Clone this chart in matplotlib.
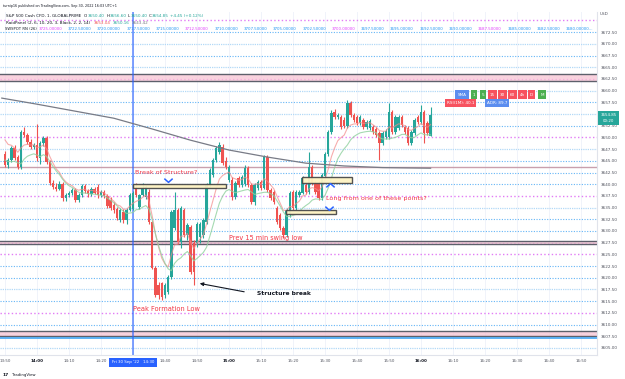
import numpy as np
import matplotlib.pyplot as plt
from matplotlib.path import Path
from matplotlib.patches import Rectangle

# 1 minute candles, minute offset from 14:00 of the first candle
first_minute = -10

opens = [
    3646.5, 3644.1, 3645.1, 3647.7, 3645.8, 3643.7, 3651.1, 3650.5, 3649.0, 3648.0,  # 13:50
    3648.4, 3645.6, 3648.7, 3649.8, 3644.7, 3640.2, 3639.4, 3639.0, 3640.0, 3637.0,  # 14:00
    3637.7, 3638.1, 3638.7, 3636.6, 3637.7, 3639.6, 3638.6, 3637.8, 3638.9, 3639.5,  # 14:10
    3637.6, 3638.3, 3637.4, 3636.6, 3635.5, 3634.8, 3632.3, 3634.0, 3632.3, 3634.5,  # 14:20
    3634.8, 3639.2, 3635.1, 3637.7, 3637.3, 3638.3, 3631.9, 3622.1, 3618.5, 3618.8,  # 14:30
    3616.3, 3617.0, 3620.2, 3630.6, 3634.5, 3627.6, 3634.5, 3629.1, 3630.8, 3627.4,  # 14:40
    3627.4, 3628.8, 3629.1, 3631.9, 3639.8, 3642.0, 3645.1, 3646.8, 3648.0, 3645.0,  # 14:50
    3641.0, 3641.0, 3637.2, 3641.3, 3639.8, 3640.0, 3643.4, 3639.8, 3636.2, 3639.2,  # 15:00
    3640.5, 3639.2, 3645.8, 3638.7, 3638.4, 3635.0, 3633.4, 3630.6, 3629.1, 3633.4,  # 15:10
    3638.3, 3634.9, 3637.7, 3638.1, 3639.8, 3638.3, 3643.7, 3640.2, 3640.2, 3637.0,  # 15:20
    3641.8, 3646.5, 3651.1, 3655.4, 3654.3, 3654.3, 3653.8, 3652.4, 3657.3, 3654.8,  # 15:30
    3654.3, 3653.0, 3653.7, 3652.2, 3652.0, 3652.2, 3651.8, 3650.9, 3648.8, 3650.0,  # 15:40
    3650.1, 3655.4, 3651.1, 3652.0, 3654.3, 3652.2, 3652.0, 3648.8, 3650.9, 3654.3,  # 15:50
    3653.3, 3655.4, 3653.0, 3650.4,                                                  # 16:00
]
highs = [
    3647.0, 3645.6, 3648.2, 3648.3, 3646.3, 3651.6, 3652.3, 3651.0, 3649.6, 3648.9,
    3652.8, 3649.2, 3650.3, 3650.2, 3645.2, 3640.9, 3640.3, 3640.6, 3640.4, 3638.2,
    3638.6, 3639.2, 3639.1, 3638.2, 3640.1, 3640.0, 3639.0, 3639.3, 3639.4, 3640.0,
    3638.8, 3638.7, 3638.0, 3637.2, 3636.2, 3635.2, 3635.0, 3634.6, 3635.0, 3638.1,
    3638.6, 3640.2, 3638.0, 3640.2, 3639.8, 3638.9, 3632.2, 3622.5, 3619.0, 3619.2,
    3618.9, 3620.6, 3634.4, 3638.3, 3635.0, 3635.3, 3635.0, 3631.8, 3631.2, 3628.0,
    3631.9, 3632.0, 3632.7, 3640.2, 3643.4, 3645.5, 3648.1, 3649.0, 3648.5, 3645.8,
    3644.2, 3641.6, 3640.6, 3641.8, 3641.9, 3644.1, 3643.9, 3640.2, 3640.2, 3640.9,
    3640.9, 3646.3, 3646.2, 3639.2, 3638.8, 3635.4, 3633.8, 3631.0, 3634.9, 3638.5,
    3638.7, 3638.7, 3638.7, 3641.7, 3640.2, 3646.9, 3644.1, 3640.6, 3640.6, 3642.4,
    3646.9, 3651.5, 3655.8, 3656.0, 3655.3, 3654.7, 3654.3, 3658.0, 3657.7, 3655.2,
    3654.7, 3654.7, 3654.1, 3653.7, 3653.9, 3652.6, 3652.2, 3651.3, 3651.3, 3651.7,
    3657.3, 3655.8, 3654.7, 3654.7, 3654.7, 3652.6, 3652.4, 3651.5, 3654.1, 3654.7,
    3656.9, 3655.8, 3653.4, 3656.6,
]
lows = [
    3643.6, 3643.5, 3644.7, 3645.1, 3643.2, 3643.3, 3650.1, 3648.6, 3647.6, 3647.5,
    3645.0, 3644.4, 3648.2, 3644.3, 3639.9, 3639.0, 3638.6, 3638.7, 3636.4, 3636.5,
    3637.2, 3637.6, 3636.2, 3636.3, 3637.3, 3638.2, 3637.3, 3637.5, 3637.8, 3637.1,
    3637.2, 3637.0, 3634.9, 3634.4, 3633.8, 3632.4, 3631.9, 3631.8, 3631.6, 3634.2,
    3634.5, 3637.3, 3634.8, 3637.4, 3636.9, 3631.5, 3621.8, 3615.9, 3615.5, 3615.2,
    3615.6, 3616.6, 3619.8, 3630.2, 3627.2, 3626.3, 3628.7, 3628.0, 3620.8, 3618.5,
    3626.5, 3627.5, 3628.5, 3631.5, 3639.4, 3641.6, 3644.7, 3646.4, 3644.1, 3643.3,
    3640.5, 3636.7, 3636.8, 3639.4, 3639.4, 3639.6, 3639.4, 3635.8, 3635.5, 3638.8,
    3638.8, 3638.9, 3638.3, 3636.6, 3635.8, 3631.5, 3630.2, 3628.4, 3628.8, 3633.0,
    3634.5, 3634.5, 3637.3, 3637.8, 3637.9, 3638.0, 3639.8, 3637.9, 3636.6, 3636.6,
    3641.4, 3646.1, 3650.7, 3654.0, 3653.9, 3651.8, 3652.0, 3652.0, 3654.4, 3653.3,
    3652.6, 3652.6, 3651.8, 3651.8, 3651.6, 3650.7, 3650.1, 3645.2, 3648.4, 3649.6,
    3649.7, 3650.7, 3650.7, 3651.6, 3652.2, 3650.7, 3648.4, 3648.4, 3650.5, 3652.9,
    3652.9, 3648.8, 3650.5, 3650.4,
]
closes = [
    3644.1, 3645.1, 3647.7, 3645.6, 3643.7, 3651.1, 3650.5, 3649.0, 3648.0, 3648.4,
    3645.6, 3648.7, 3649.8, 3644.7, 3640.2, 3639.4, 3639.0, 3640.0, 3637.0, 3637.7,
    3638.1, 3638.7, 3636.6, 3637.7, 3639.6, 3638.6, 3637.8, 3638.9, 3638.2, 3637.6,
    3638.3, 3637.4, 3635.3, 3634.9, 3634.5, 3632.8, 3634.5, 3632.3, 3634.5, 3637.7,
    3638.2, 3637.7, 3637.7, 3639.2, 3639.3, 3631.9, 3622.1, 3616.3, 3616.3, 3616.0,
    3618.5, 3620.2, 3634.0, 3634.5, 3627.6, 3634.9, 3629.1, 3631.3, 3621.2, 3621.3,
    3631.5, 3631.5, 3632.3, 3639.8, 3643.0, 3645.1, 3647.7, 3648.4, 3644.5, 3643.7,
    3643.7, 3637.2, 3640.2, 3639.8, 3641.5, 3643.4, 3639.8, 3636.2, 3639.8, 3640.5,
    3639.2, 3645.8, 3638.7, 3637.0, 3636.2, 3631.9, 3630.6, 3629.1, 3634.5, 3638.1,
    3634.9, 3638.3, 3638.3, 3641.3, 3638.3, 3643.7, 3640.2, 3638.3, 3637.0, 3642.0,
    3646.5, 3651.1, 3655.2, 3654.3, 3654.8, 3652.2, 3652.4, 3657.3, 3654.8, 3653.7,
    3653.0, 3654.3, 3652.2, 3653.3, 3653.5, 3651.1, 3650.5, 3648.8, 3650.9, 3651.3,
    3655.4, 3651.1, 3654.3, 3654.3, 3652.6, 3651.1, 3648.8, 3651.1, 3653.7, 3653.3,
    3655.4, 3650.9, 3650.9, 3654.85,
]

# slow grey average, read at a few points
slow_ma_minutes = [-11, 0, 12, 24, 36, 48, 60, 72, 84, 96, 108, 123]
slow_ma_values = [3658.4, 3657.1, 3655.6, 3654.1, 3651.8, 3649.4, 3647.3, 3645.8, 3644.5, 3643.9, 3643.55, 3643.42]

# horizontal levels drawn on the chart
level_prices = [3675.0, 3672.5, 3670.0, 3667.5, 3665.0, 3662.5, 3660.0, 3657.5, 3655.0, 3652.5,
                3650.0, 3647.5, 3645.0, 3642.5, 3640.0, 3637.5, 3635.0, 3632.5, 3630.0, 3627.5,
                3625.0, 3622.5, 3620.0, 3617.5, 3615.0, 3612.5, 3610.0, 3605.0]
level_kinds = ['pink', 'blue', 'light', 'blue', 'light', 'pink', 'light', 'blue', 'light', 'blue',
               'pink', 'light', 'blue', 'blue', 'blue', 'pink', 'light', 'blue', 'blue', 'pink',
               'pink', 'blue', 'blue', 'light', 'blue', 'pink', 'blue', 'light']
zone_tops = [3663.5, 3627.8, 3608.6]
zone_bottoms = [3662.0, 3627.2, 3607.5]
solid_level = 3643.7
blue_level = 3607.1

rn_levels = [3725.0, 3722.5, 3720.0, 3717.5, 3715.0, 3712.5, 3710.0, 3707.5, 3705.0, 3702.5,
             3700.0, 3697.5, 3695.0, 3692.5, 3690.0, 3687.5, 3685.0, 3682.5, 3680.0]

price_ticks = [3672.5, 3670.0, 3667.5, 3665.0, 3662.5, 3660.0, 3657.5, 3652.5, 3650.0, 3647.5,
               3645.0, 3642.5, 3640.0, 3637.5, 3635.0, 3632.5, 3630.0, 3627.5, 3625.0, 3622.5,
               3620.0, 3617.5, 3615.0, 3612.5, 3610.0, 3607.5, 3605.0]
time_labels = ['13:50', '14:00', '14:10', '14:20', '', '14:40', '14:50', '15:00', '15:10', '15:20',
               '15:30', '15:40', '15:50', '16:00', '16:10', '16:20', '16:30', '16:40', '16:50']

UP = '#26a69a'
DOWN = '#ef5350'
NOTE = '#f23645'
DARK = '#131722'
W, H = 625, 379


def ema(values, span, seed):
    a = 2 / (span + 1)
    out, v = [], seed
    for x in values:
        v = v + a * (x - v)
        out.append(v)
    return out


def fx(x):
    return x / W


def fy(y):
    return 1 - y / H


fig = plt.figure(figsize=(6.25, 3.79), dpi=100)
ax = fig.add_axes([0, fy(355), fx(597), (355 - 12) / H])
ax.set_xlim(-11.56, 175)
ax.set_ylim(3603.5, 3676.8)

minutes = np.arange(first_minute, first_minute + len(closes))
o = np.array(opens)
c = np.array(closes)

# vertical grid
for m in range(-10, 175, 10):
    ax.axvline(m, color='#f0f3fa', lw=0.7, zorder=0)

# levels
styles = {
    'blue': dict(color='#64b5f6', lw=0.8, ls=(0, (1, 1.4))),
    'light': dict(color='#b3d9f7', lw=0.9, ls=(0, (1, 0.8))),
    'pink': dict(color='#e27cf5', lw=1.0, ls=(0, (1, 1.7))),
}
for p, k in zip(level_prices, level_kinds):
    ax.axhline(p, zorder=1, **styles[k])
for top, bot in zip(zone_tops, zone_bottoms):
    ax.axhspan(bot, top, color='#f8c4d4', alpha=0.75, lw=0, zorder=1)
    ax.axhline(top, color='#5d606b', lw=1.0, zorder=2)
    ax.axhline(bot, color='#5d606b', lw=1.0, zorder=2)
ax.axhline(solid_level, color='#c9a0ad', lw=1.0, zorder=2)
ax.axhline(blue_level, color='#42a5f5', lw=1.2, zorder=2)

# blue vertical marker at 14:30
ax.axvline(30, color='#2962ff', lw=1.3, alpha=0.65, zorder=2)

# candles
colors = [UP if cc >= oo else DOWN for oo, cc in zip(o, c)]
ax.vlines(minutes, lows, highs, colors=colors, lw=0.8, zorder=3)
ax.bar(minutes, np.maximum(np.abs(c - o), 0.2), bottom=np.minimum(o, c), width=0.8,
       color=colors, lw=0, zorder=3)

# averages
ax.plot(minutes, ema(closes, 8, 3651.0), color='#f48a8a', lw=0.8, alpha=0.7, zorder=4)
ax.plot(minutes, ema(lows, 10, 3645.5), color='#8fd19e', lw=0.8, alpha=0.8, zorder=4)
ax.plot(slow_ma_minutes, slow_ma_values, color='#787b86', lw=0.9, zorder=4)

# drawn boxes
for x0, x1, y0, y1 in [(30, 59, 3639.2, 3640.0), (82.8, 98.4, 3640.2, 3641.5), (77.8, 93.4, 3633.6, 3634.5)]:
    ax.add_patch(Rectangle((x0, y0), x1 - x0, y1 - y0, facecolor='#fdf3c2', edgecolor='#4a4a4a',
                           lw=1.0, alpha=0.95, zorder=5))

chev_down = Path([(-1, 0.45), (0, -0.45), (1, 0.45)], [Path.MOVETO, Path.LINETO, Path.LINETO])
chev_up = Path([(-1, -0.45), (0, 0.45), (1, -0.45)], [Path.MOVETO, Path.LINETO, Path.LINETO])
ax.plot([41], [3640.9], marker=chev_down, ms=6, mec='#2962ff', mfc='none', mew=1.1, zorder=6)
ax.plot([91.6], [3639.8], marker=chev_up, ms=6, mec='#2962ff', mfc='none', mew=1.1, zorder=6)
ax.plot([91.2], [3635.0], marker=chev_down, ms=6, mec='#2962ff', mfc='none', mew=1.1, zorder=6)

# notes
ax.text(30.6, 3642.4, 'Break of Structure?', color=NOTE, fontsize=4.6, va='center', zorder=6)
ax.text(90.3, 3637.0, 'Long from one of these points?', color=NOTE, fontsize=4.6, va='center', zorder=6)
ax.text(60, 3628.5, 'Prev 15 min swing low', color=NOTE, fontsize=4.7, va='center', zorder=6)
ax.text(30, 3613.3, 'Peak Formation Low', color=NOTE, fontsize=4.8, va='center', zorder=6)
ax.text(68.7, 3616.7, 'Structure break', color=DARK, fontsize=4.3, fontweight='bold', va='center', zorder=6)
ax.annotate('', xy=(50, 3618.9), xytext=(65.6, 3616.9),
            arrowprops=dict(arrowstyle='-|>', color=DARK, lw=0.8, mutation_scale=5), zorder=6)

# axes
for s in ['top', 'left']:
    ax.spines[s].set_visible(False)
ax.spines['right'].set_color('#e0e3eb')
ax.spines['bottom'].set_color('#e0e3eb')
ax.yaxis.tick_right()
ax.set_yticks(price_ticks)
ax.set_yticklabels([f'{p:.2f}' for p in price_ticks], fontsize=3.0, color='#50535e')
ax.set_xticks(range(-10, 171, 10))
ax.set_xticklabels(time_labels, fontsize=2.9, color='#50535e')
for lbl in ax.get_xticklabels():
    if lbl.get_text() in ('14:00', '15:00', '16:00'):
        lbl.set_fontweight('bold')
        lbl.set_color(DARK)
ax.tick_params(length=0, pad=3)

# time cursor label and last price label
fig.text(fx(133), fy(362.5), "Fri 30 Sep '22   14:30", fontsize=2.9, color='white', ha='center', va='center',
         bbox=dict(boxstyle='square,pad=0.6', fc='#2962ff', ec='none'))
fig.text(fx(608.5), fy(118), '3654.85\n00:20', fontsize=2.9, color='white', ha='center', va='center',
         linespacing=1.5, bbox=dict(boxstyle='square,pad=0.5', fc=UP, ec='none'))
fig.text(fx(600), fy(14), 'USD', fontsize=3.0, color='#50535e', va='center')

# legend rows
renderer = fig.canvas.get_renderer()


def text_row(x, y, pieces, size):
    for s, col, gap in pieces:
        t = fig.text(fx(x), fy(y), s, fontsize=size, color=col, va='center', ha='left')
        x = t.get_window_extent(renderer).x1 + gap


fig.text(fx(3), fy(6), 'turnip16 published on TradingView.com, Sep 30, 2022 16:03 UTC+1',
         fontsize=2.4, color=DARK, va='center')
text_row(6, 16, [('S&P 500 Cash CFD, 1, GLOBALPRIME', DARK, 3),
                 ('O', DARK, 0.3), ('3650.40', UP, 1.5), ('H', DARK, 0.3), ('3656.60', UP, 1.5),
                 ('L', DARK, 0.3), ('3650.40', UP, 1.5), ('C', DARK, 0.3), ('3654.85', UP, 1.5),
                 ('+4.45 (+0.12%)', UP, 0)], 3.0)
text_row(6, 23, [('RaidPanel (2, 6, 10, 20, 3, Black, 2, 2, 14)', DARK, 3),
                 ('3653.04', DOWN, 2.5), ('3650.16', UP, 2.5), ('3643.42', '#787b86', 0)], 3.0)
fig.text(fx(5), fy(29.5), 'SWSPOT RN (26)', fontsize=2.7, color=DARK, va='center')
for i, lv in enumerate(rn_levels):
    col = '#e040fb' if lv % 12.5 == 0 else '#2196f3'
    s = f'{lv:.5f}' + ('...' if i == len(rn_levels) - 1 else '')
    fig.text(fx(38.5 + i * 29.3), fy(29.5), s, fontsize=2.9, color=col, va='center')

# timeframe tags
tag_labels = ['SMA', '1', '5', '15', '30', '60', '4h', 'D', 'M']
tag_colors = ['#5b8def', '#4caf50', '#4caf50', '#f7525f', '#f7525f', '#f7525f', '#f7525f', '#f7525f', '#4caf50']
tag_x = [462, 474, 483, 492.5, 502.5, 512.5, 522.5, 531.5, 542]
for s, col, x in zip(tag_labels, tag_colors, tag_x):
    fig.text(fx(x), fy(94.5), s, fontsize=3.0, color='white', ha='center', va='center',
             bbox=dict(boxstyle='square,pad=0.5', fc=col, ec='none'))
fig.text(fx(460.5), fy(103), 'RSI(1M): 40.1', fontsize=3.0, color='white', ha='center', va='center',
         bbox=dict(boxstyle='square,pad=0.5', fc='#f7525f', ec='none'))
fig.text(fx(497), fy(103), 'ADR: 89.7', fontsize=3.0, color='white', ha='center', va='center',
         bbox=dict(boxstyle='square,pad=0.5', fc='#5b8def', ec='none'))

# footer
fig.text(fx(3), fy(375), '17', fontsize=3.2, fontweight='bold', color=DARK, va='center')
fig.text(fx(12), fy(375), 'TradingView', fontsize=2.8, color=DARK, va='center')

fig.savefig('out.png', dpi=100)
